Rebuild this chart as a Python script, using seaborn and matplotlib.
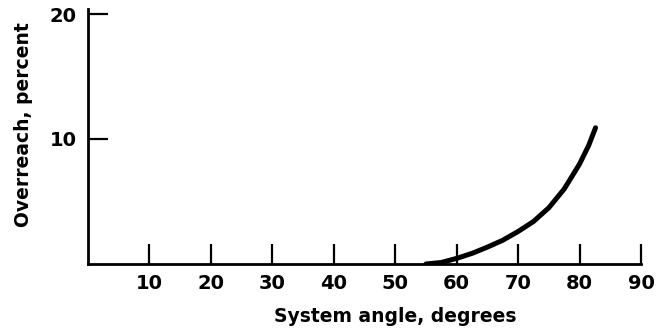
import matplotlib
matplotlib.use("Agg")
import matplotlib.pyplot as plt
import seaborn as sns
import pandas as pd

# Data
angle = [55, 57.5, 60, 62.5, 65, 67.5, 70, 72.5, 75, 77.5, 80, 81.5, 82.6]
overreach = [0.0, 0.12, 0.45, 0.85, 1.35, 1.9, 2.6, 3.4, 4.5, 6.0, 8.0, 9.5, 10.9]
x_ticks = [10, 20, 30, 40, 50, 60, 70, 80, 90]
y_ticks = [10, 20]

sns.set_theme(style="white")
plt.rcParams['font.family'] = ['DejaVu Sans']

df = pd.DataFrame({"angle": angle, "overreach": overreach})

fig = plt.figure(figsize=(6.59, 3.33), dpi=100)
ax = fig.add_axes([88/659, 1-264/333, (641-88)/659, (264-9)/333])

sns.lineplot(data=df, x="angle", y="overreach", ax=ax, color="black",
             linewidth=3.6, solid_capstyle="round", solid_joinstyle="round")

ax.set_xlim(0, 90)
ax.set_ylim(0, 20.4)
ax.set_xticks(x_ticks)
ax.set_xticklabels([str(t) for t in x_ticks])
ax.set_yticks(y_ticks)
ax.set_yticklabels([str(t) for t in y_ticks])

for s in ["top", "right"]:
    ax.spines[s].set_visible(False)
for s in ["left", "bottom"]:
    ax.spines[s].set_color("black")
    ax.spines[s].set_linewidth(2.0)

ax.tick_params(axis="both", which="major", direction="in", length=14.5, width=1.6,
               colors="black", labelsize=14, bottom=True, left=True)
ax.tick_params(axis="x", pad=7)
ax.tick_params(axis="y", pad=8)
for lab in ax.get_xticklabels() + ax.get_yticklabels():
    lab.set_fontweight("bold")

ax.set_xlabel("System angle, degrees", fontsize=13.5, fontweight="bold", color="black")
ax.set_ylabel("Overreach, percent", fontsize=13.5, fontweight="bold", color="black")
ax.xaxis.set_label_coords(0.555, -0.17)
ax.yaxis.set_label_coords(-0.1, 0.547)

fig.savefig("out.png", dpi=100, facecolor="white")
